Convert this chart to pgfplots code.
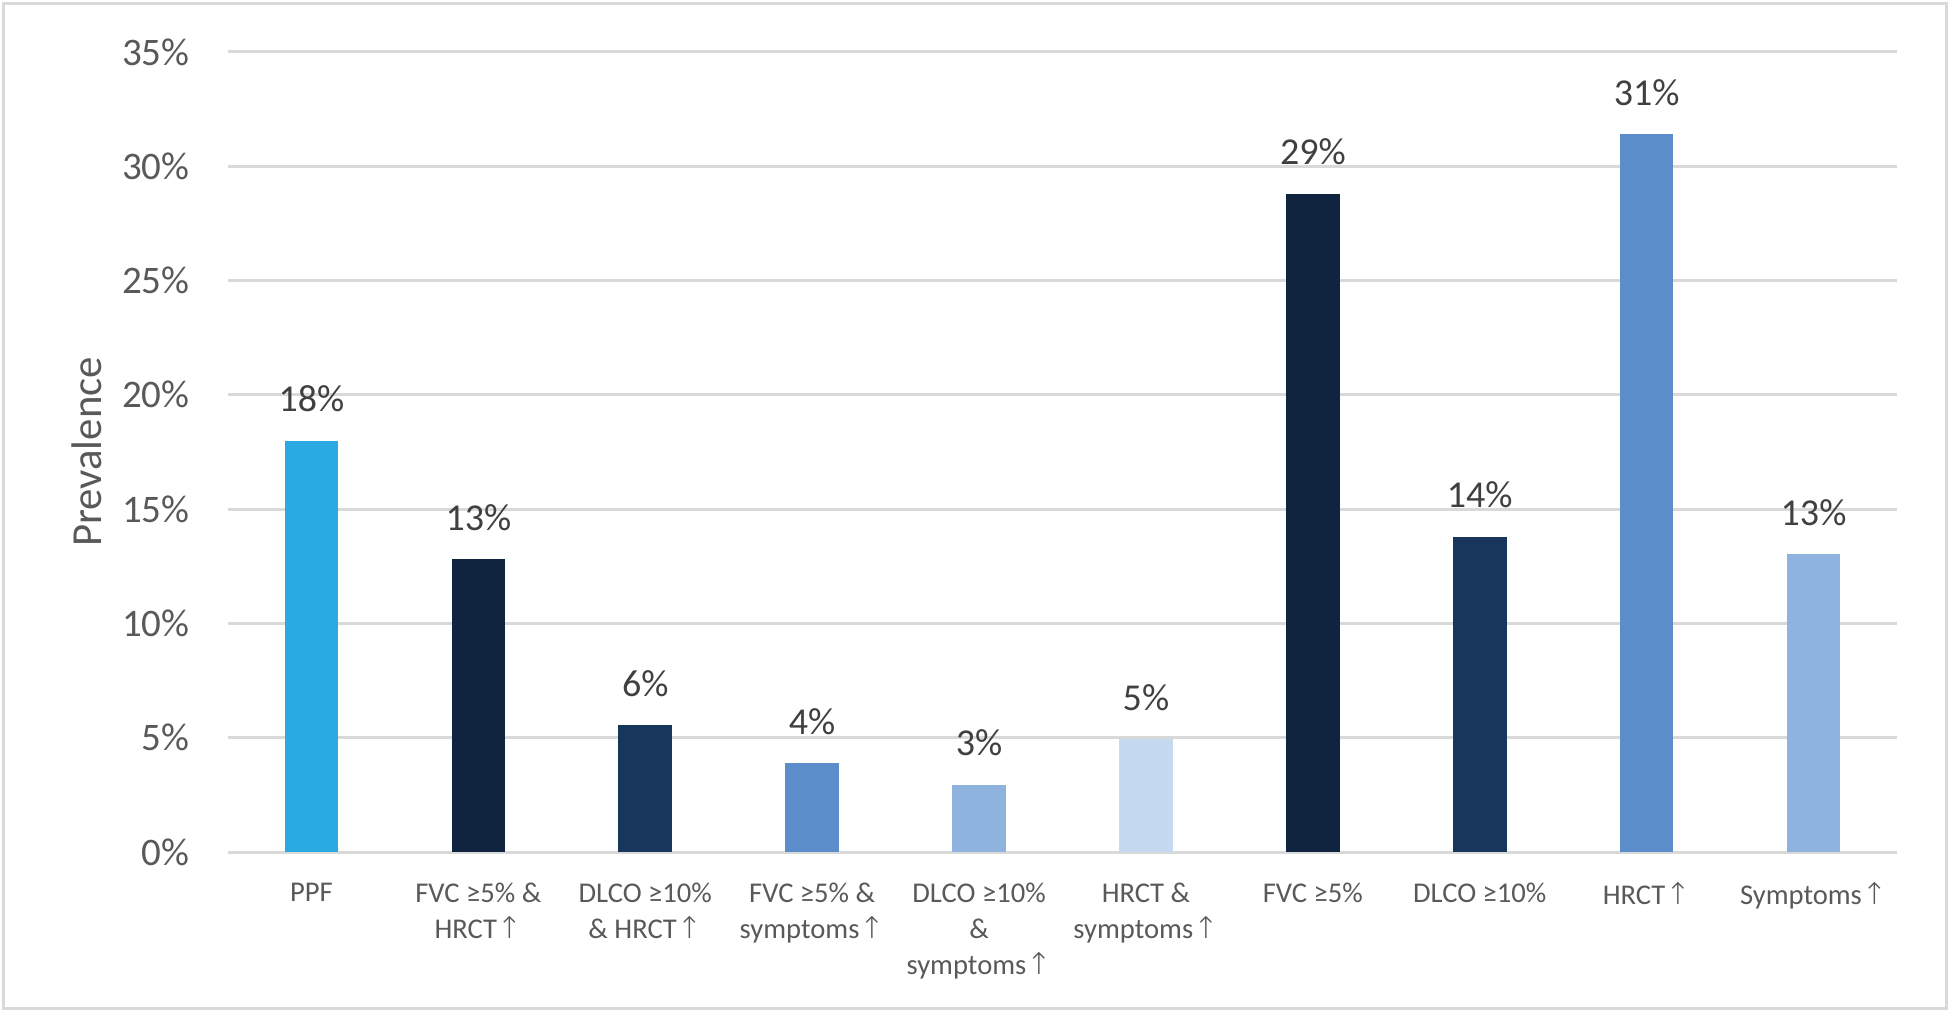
\documentclass[border=0pt]{standalone}
\usepackage{pgfplots}
\pgfplotsset{compat=1.18}
\usepackage{fontspec}
\setmainfont{Carlito}
\newfontfamily\symfont[Scale=1.05]{DejaVu Sans ExtraLight}
\newcommand{\up}{{\symfont ↑}}
\definecolor{gridgray}{HTML}{D9D9D9}
\definecolor{labgray}{HTML}{595959}
\definecolor{datgray}{HTML}{404040}
\definecolor{cA}{HTML}{29ABE2}
\definecolor{cB}{HTML}{10233F}
\definecolor{cC}{HTML}{18365C}
\definecolor{cD}{HTML}{5A8DC9}
\definecolor{cE}{HTML}{8FB3DF}
\definecolor{cF}{HTML}{C5D9F0}
\begin{document}
\begin{tikzpicture}
\path[use as bounding box] (-114pt,-80.5pt) rectangle (861pt,426pt);
\draw[gridgray, line width=1.5pt] (-112pt,-78pt) rectangle (859pt,424pt);
\begin{axis}[
  scale only axis, width=834.5pt, height=400pt,
  at={(0,0)}, anchor=south west,
  xmin=-0.5, xmax=9.5, ymin=0, ymax=35,
  axis x line*=bottom, axis y line*=left,
  x axis line style={draw=gridgray, line width=1.5pt, -},
  y axis line style={draw=none},
  ymajorgrids, grid style={gridgray, line width=1.5pt},
  ytick={0,5,...,35},
  yticklabels={0\%,5\%,10\%,15\%,20\%,25\%,30\%,35\%},
  ytick style={draw=none},
  yticklabel style={font=\fontsize{19.5}{20}\selectfont, text=labgray, anchor=east, inner sep=0pt, xshift=-19pt},
  xtick={0,...,9},
  xtick style={draw=none},
  xticklabels={PPF, {FVC ≥5\% \&\\HRCT\up}, {DLCO ≥10\%\\\& HRCT\up}, {FVC ≥5\% \&\\symptoms\up}, {DLCO ≥10\%\\\&\\symptoms\up}, {HRCT \&\\symptoms\up}, {FVC ≥5\%}, {DLCO ≥10\%}, {HRCT\up}, {Symptoms\up}},
  xticklabel style={font=\fontsize{14.3}{18}\selectfont, text=labgray, align=center, anchor=north, inner sep=0pt, yshift=-15.3pt},
  extra x ticks={-0.5,0.5,...,9.5},
  extra x tick labels={},
  extra x tick style={grid=none, tick align=outside, major tick length=5pt, tick style={draw=gridgray, line width=1.5pt}},
  ylabel={Prevalence},
  every axis y label/.style={at={(axis description cs:-0.0845,0.5)}, rotate=90, anchor=center, font=\fontsize{21.4}{23}\selectfont, text=labgray},
  point meta=explicit symbolic,
  nodes near coords={\pgfplotspointmeta\%},
  every node near coord/.append style={font=\fontsize{19}{20}\selectfont, text=datgray, anchor=south, inner sep=0pt, yshift=14pt},
  clip=false,
]
\addplot[ybar, bar width=26.8pt, bar shift=0pt, fill=cA, draw=none] coordinates {(0,18.0) [18]};
\addplot[ybar, bar width=26.8pt, bar shift=0pt, fill=cB, draw=none] coordinates {(1,12.8) [13]};
\addplot[ybar, bar width=26.8pt, bar shift=0pt, fill=cC, draw=none] coordinates {(2,5.55) [6]};
\addplot[ybar, bar width=26.8pt, bar shift=0pt, fill=cD, draw=none] coordinates {(3,3.9) [4]};
\addplot[ybar, bar width=26.8pt, bar shift=0pt, fill=cE, draw=none] coordinates {(4,2.95) [3]};
\addplot[ybar, bar width=26.8pt, bar shift=0pt, fill=cF, draw=none] coordinates {(5,4.95) [5]};
\addplot[ybar, bar width=26.8pt, bar shift=0pt, fill=cB, draw=none] coordinates {(6,28.8) [29]};
\addplot[ybar, bar width=26.8pt, bar shift=0pt, fill=cC, draw=none] coordinates {(7,13.8) [14]};
\addplot[ybar, bar width=26.8pt, bar shift=0pt, fill=cD, draw=none] coordinates {(8,31.4) [31]};
\addplot[ybar, bar width=26.8pt, bar shift=0pt, fill=cE, draw=none] coordinates {(9,13.05) [13]};
\end{axis}
\end{tikzpicture}
\end{document}
